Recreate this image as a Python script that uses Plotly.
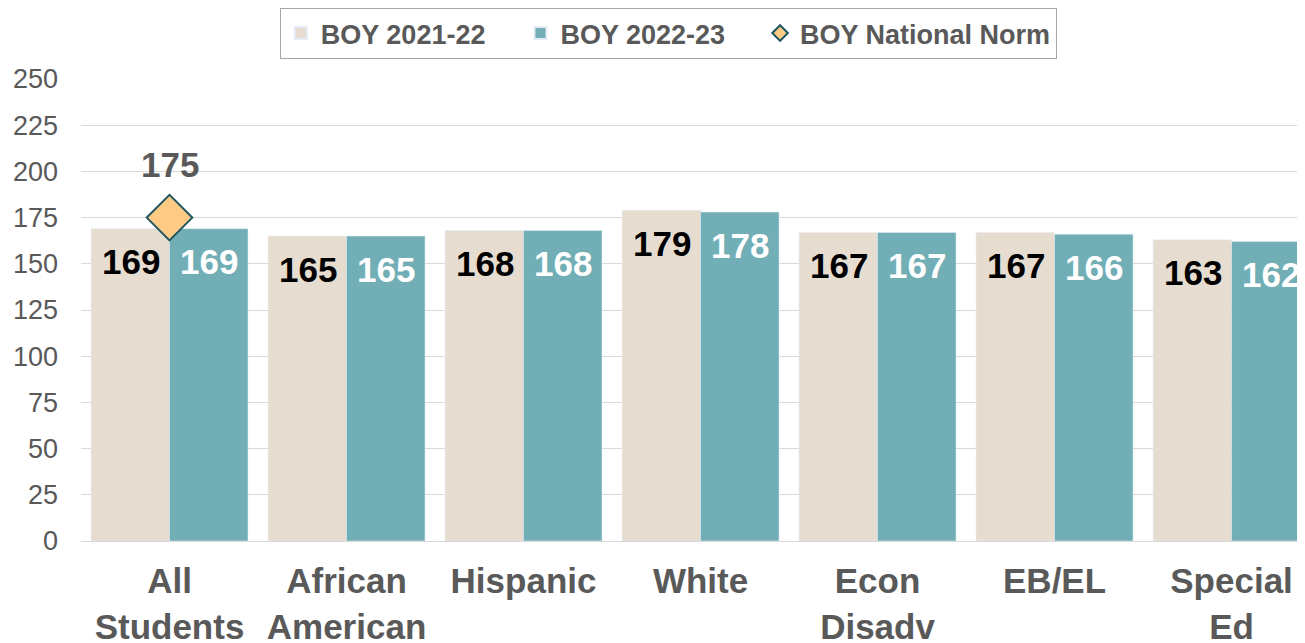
import plotly.graph_objects as go

categories = ["All<br>Students", "African<br>American", "Hispanic", "White", "Econ<br>Disadv", "EB/EL", "Special<br>Ed"]
boy_2021_22 = [169, 165, 168, 179, 167, 167, 163]
boy_2022_23 = [169, 165, 168, 178, 167, 166, 162]
norm_categories = ["All<br>Students"]
norm_values = [175]
y_ticks = [0, 25, 50, 75, 100, 125, 150, 175, 200, 225, 250]

BEIGE = "#E6DDD0"
TEAL = "#71AEB6"
GRAY = "#595959"
FONT = "Arial, Liberation Sans, sans-serif"
PAD = "\u00a0" * 4

fig = go.Figure()
fig.add_trace(go.Bar(name="BOY 2021-22" + PAD, x=categories, y=boy_2021_22, marker_color=BEIGE))
fig.add_trace(go.Bar(name="BOY 2022-23" + PAD, x=categories, y=boy_2022_23, marker_color=TEAL))
fig.add_trace(go.Scatter(name="BOY National Norm", x=norm_categories, y=norm_values, mode="markers",
                         marker=dict(symbol="diamond", size=35, color="#FDCB85",
                                     line=dict(color="#1E5560", width=2))))

annotations = []
for c, v in zip(categories, boy_2021_22):
    annotations.append(dict(x=c, y=v, xref="x", yref="y", text=f"<b>{v}</b>", showarrow=False,
                            xshift=-39, yshift=-33, font=dict(size=35, color="#000000", family=FONT)))
for c, v in zip(categories, boy_2022_23):
    annotations.append(dict(x=c, y=v, xref="x", yref="y", text=f"<b>{v}</b>", showarrow=False,
                            xshift=39, yshift=-33, font=dict(size=35, color="#FFFFFF", family=FONT)))
for c, v in zip(norm_categories, norm_values):
    annotations.append(dict(x=c, y=v, xref="x", yref="y", text=f"<b>{v}</b>", showarrow=False,
                            yshift=53, font=dict(size=35, color=GRAY, family=FONT)))

fig.update_layout(
    width=1305, height=643,
    margin=dict(l=73, r=8, t=71, b=110, autoexpand=False),
    paper_bgcolor="white", plot_bgcolor="white",
    barmode="group", bargap=0.113, bargroupgap=0,
    font=dict(family=FONT, color=GRAY),
    annotations=annotations,
    legend=dict(orientation="h", x=0.506, xanchor="center", xref="container",
                y=1.0, yanchor="top", yref="container",
                bordercolor="#A6A6A6", borderwidth=1, bgcolor="white",
                font=dict(size=27, color=GRAY, family=FONT, weight="bold"),
                itemsizing="constant", traceorder="normal"),
    xaxis=dict(range=[-0.5, 6.415], showgrid=False, showline=False, ticks="", automargin=False,
               tickfont=dict(size=35, color=GRAY, family=FONT, weight="bold"),
               ticklabelstandoff=16),
    yaxis=dict(range=[0, 250], tickvals=y_ticks, showgrid=True, gridcolor="#D9D9D9", gridwidth=1,
               zeroline=True, zerolinecolor="#D9D9D9", zerolinewidth=1, showline=False, ticks="",
               automargin=False,
               tickfont=dict(size=27, color=GRAY, family=FONT), ticklabelstandoff=22),
)

fig.write_html("out.html")
